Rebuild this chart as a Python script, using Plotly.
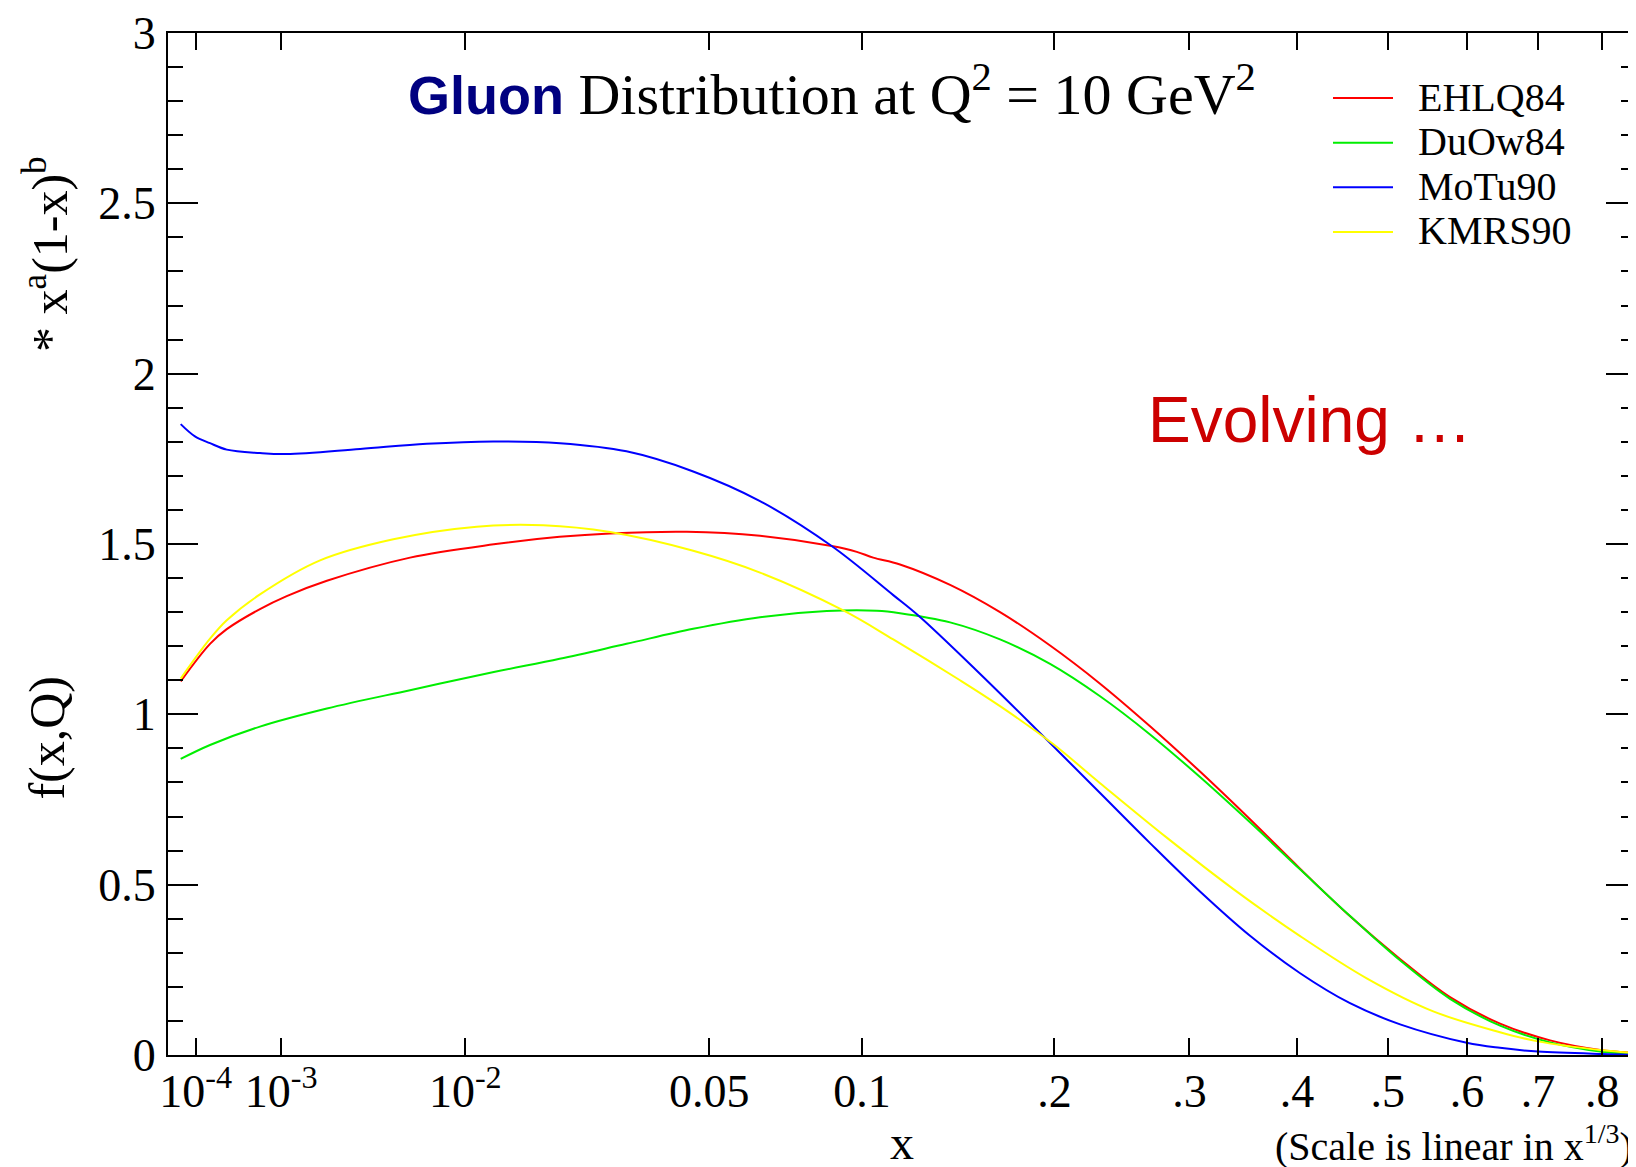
import numpy as np
import plotly.graph_objects as go

# ---------------- data ----------------
series_names = ["EHLQ84", "DuOw84", "MoTu90", "KMRS90"]
series_colors = ["#ff0000", "#00ee00", "#0000ff", "#ffff00"]

ehlq84_x = [5.07e-5, 1.70e-4, 2.86e-4, 6.52e-4, 1.108e-3, 2.13e-3, 5.91e-3, 1.27e-2, 2.07e-2,
            2.87e-2, 4.45e-2, 6.41e-2, 8.82e-2, 9.79e-2, 0.1046, 0.1162, 0.1401, 0.1670,
            0.1972, 0.2308, 0.2680, 0.3090, 0.3540, 0.4032, 0.4568, 0.5148, 0.5776, 0.6454,
            0.7182, 0.7963, 0.8559]
ehlq84_y = [1.097, 1.207, 1.250, 1.309, 1.347, 1.392, 1.460, 1.499, 1.521,
            1.531, 1.536, 1.524, 1.494, 1.477, 1.460, 1.440, 1.380, 1.300,
            1.202, 1.090, 0.965, 0.832, 0.692, 0.547, 0.407, 0.282, 0.170, 0.092,
            0.043, 0.015, 0.006]

duow84_x = [5.07e-5, 1.70e-4, 6.52e-4, 2.13e-3, 5.91e-3, 1.27e-2, 2.07e-2, 3.17e-2, 4.60e-2,
            6.41e-2, 8.64e-2, 0.1061, 0.1162, 0.1401, 0.1670, 0.1972, 0.2308, 0.2680, 0.3090,
            0.3540, 0.4032, 0.4568, 0.5148, 0.5776, 0.6454, 0.7182, 0.7963, 0.8559]
duow84_y = [0.869, 0.910, 0.964, 1.017, 1.071, 1.124, 1.163, 1.207, 1.251,
            1.285, 1.303, 1.304, 1.297, 1.270, 1.220, 1.148, 1.053, 0.941, 0.816,
            0.683, 0.545, 0.408, 0.278, 0.165, 0.086, 0.037, 0.010, 0.003]

motu90_x = [5.07e-5, 9.7e-5, 1.70e-4, 2.86e-4, 6.52e-4, 1.108e-3, 3.34e-3, 6.99e-3, 1.265e-2,
            2.075e-2, 3.17e-2, 4.60e-2, 6.41e-2, 8.82e-2, 0.1132, 0.1246, 0.1541, 0.1888,
            0.2308, 0.268, 0.309, 0.354, 0.4033, 0.4567, 0.5149, 0.5997, 0.6452, 0.700,
            0.800, 0.856]
motu90_y = [1.852, 1.816, 1.796, 1.777, 1.767, 1.764, 1.779, 1.794, 1.801,
            1.796, 1.772, 1.713, 1.626, 1.494, 1.350, 1.290, 1.128, 0.955,
            0.769, 0.622, 0.480, 0.350, 0.240, 0.152, 0.090, 0.036, 0.021, 0.010,
            0.003, 0.001]

kmrs90_x = [5.07e-5, 1.70e-4, 2.86e-4, 6.52e-4, 1.925e-3, 4.94e-3, 1.103e-2, 1.847e-2, 2.87e-2,
            4.60e-2, 6.41e-2, 9.26e-2, 0.1132, 0.1452, 0.167, 0.1985, 0.2308, 0.2813, 0.3386,
            0.4033, 0.4756, 0.556, 0.6452, 0.700, 0.800, 0.856]
kmrs90_y = [1.105, 1.222, 1.276, 1.352, 1.452, 1.514, 1.551, 1.555, 1.535,
            1.480, 1.416, 1.305, 1.220, 1.100, 1.024, 0.915, 0.798, 0.638, 0.487,
            0.349, 0.225, 0.128, 0.067, 0.040, 0.014, 0.006]

x_tick_values = [1e-4, 1e-3, 1e-2, 0.05, 0.1, 0.2, 0.3, 0.4, 0.5, 0.6, 0.7, 0.8]
x_tick_labels = ["10<sup>-4</sup>", "10<sup>-3</sup>", "10<sup>-2</sup>", "0.05", "0.1",
                 ".2", ".3", ".4", ".5", ".6", ".7", ".8"]
y_tick_values = [0, 0.5, 1, 1.5, 2, 2.5, 3]
y_tick_labels = ["0", "0.5", "1", "1.5", "2", "2.5", "3"]

# ---------------- figure ----------------
# the page body has an 8px margin, so the figure is laid out 8px in from the window edge
OFF = 8
W, H = 1636 - OFF, 1167 - OFF
ML, MR, MT, MB = 168 - OFF, 0, 28 - OFF, H - (1055 - OFF)
PW, PH = W - ML - MR, H - MT - MB
SERIF = "Liberation Serif, Times New Roman, serif"
SANS = "Liberation Sans, Arial, sans-serif"


def cbrt(v):
    return np.cbrt(np.asarray(v, dtype=float))


def fx(page_x):
    return (page_x - OFF - ML) / PW


def fy(page_y):
    return (H - MB - (page_y - OFF)) / PH


def legend_label(name):
    return '<span style="font-size:40px">\u00a0\u00a0' + name + '</span>'


fig = go.Figure()
all_x = [ehlq84_x, duow84_x, motu90_x, kmrs90_x]
all_y = [ehlq84_y, duow84_y, motu90_y, kmrs90_y]
for name, col, xs, ys in zip(series_names, series_colors, all_x, all_y):
    fig.add_trace(go.Scatter(x=cbrt(xs), y=ys, mode="lines", name=legend_label(name),
                             line=dict(color=col, width=2, shape="spline", smoothing=1.0)))

# empty trace that carries the right-hand tick axis
fig.add_trace(go.Scatter(x=[None], y=[None], yaxis="y2", showlegend=False, hoverinfo="skip"))

xr = [0.02905, 0.9494]
yr = [0, 3]

fig.update_layout(
    width=W, height=H,
    margin=dict(l=ML, r=MR, t=MT, b=MB, pad=0),
    paper_bgcolor="white", plot_bgcolor="white",
    font=dict(family=SERIF, size=46, color="black"),
    showlegend=True,
    legend=dict(x=fx(1328), y=fy(66), xanchor="left", yanchor="top",
                font=dict(family=SERIF, size=32, color="black"),
                bgcolor="rgba(0,0,0,0)", itemwidth=60, tracegroupgap=0),
    xaxis=dict(range=xr, tickmode="array", tickvals=cbrt(x_tick_values), ticktext=x_tick_labels,
               ticks="inside", ticklen=17, tickwidth=2, tickcolor="black",
               showline=True, linewidth=2, linecolor="black", mirror="ticks",
               showgrid=False, zeroline=False, ticklabelstandoff=-5, ticklabeloverflow="allow",
               tickfont=dict(family=SERIF, size=46, color="black")),
    yaxis=dict(range=yr, tickmode="array", tickvals=y_tick_values, ticktext=y_tick_labels,
               ticks="inside", ticklen=30, tickwidth=2, tickcolor="black",
               minor=dict(ticks="inside", ticklen=15, tickwidth=2, tickcolor="black", dtick=0.1,
                          showgrid=False),
               showline=True, linewidth=2, linecolor="black", mirror=False,
               showgrid=False, zeroline=False, ticklabelstandoff=1, ticklabeloverflow="allow",
               tickfont=dict(family=SERIF, size=46, color="black")),
    yaxis2=dict(range=yr, overlaying="y", side="right", tickmode="array", tickvals=y_tick_values,
                ticks="inside", ticklen=30, tickwidth=2, tickcolor="black",
                minor=dict(ticks="inside", ticklen=15, tickwidth=2, tickcolor="black", dtick=0.1,
                           showgrid=False),
                showticklabels=False, showline=False, showgrid=False, zeroline=False),
)

annotations = [
    dict(text=("<span style=\"font-family:Liberation Sans, Arial, sans-serif;color:#000080;"
               "font-weight:bold;font-size:54px;\">Gluon</span>"
               " Distribution at Q<sup>2</sup> = 10 GeV<sup>2</sup>"),
         x=fx(832), y=fy(86), xanchor="center", yanchor="middle",
         font=dict(family=SERIF, size=58, color="black")),
    dict(text="Evolving \u2026", x=fx(1310), y=fy(417), xanchor="center", yanchor="middle",
         font=dict(family=SANS, size=64, color="#cc0000")),
    dict(text="x", x=fx(902), y=fy(1143), xanchor="center", yanchor="middle",
         font=dict(family=SERIF, size=48, color="black")),
    dict(text="(Scale is linear in x<sup>1/3</sup>)", x=fx(1635), y=fy(1144),
         xanchor="right", yanchor="middle", font=dict(family=SERIF, size=40, color="black")),
    dict(text="f(x,Q)", x=fx(47), y=fy(736), xanchor="center", yanchor="middle",
         textangle=-90, font=dict(family=SERIF, size=50, color="black")),
    dict(text="* x<sup>a</sup>(1-x)<sup>b</sup>", x=fx(47), y=fy(250), xanchor="center",
         yanchor="middle", textangle=-90, font=dict(family=SERIF, size=50, color="black")),
]
for a in annotations:
    a.update(xref="paper", yref="paper", showarrow=False)
fig.update_layout(annotations=annotations)

fig.write_html("out.html")
